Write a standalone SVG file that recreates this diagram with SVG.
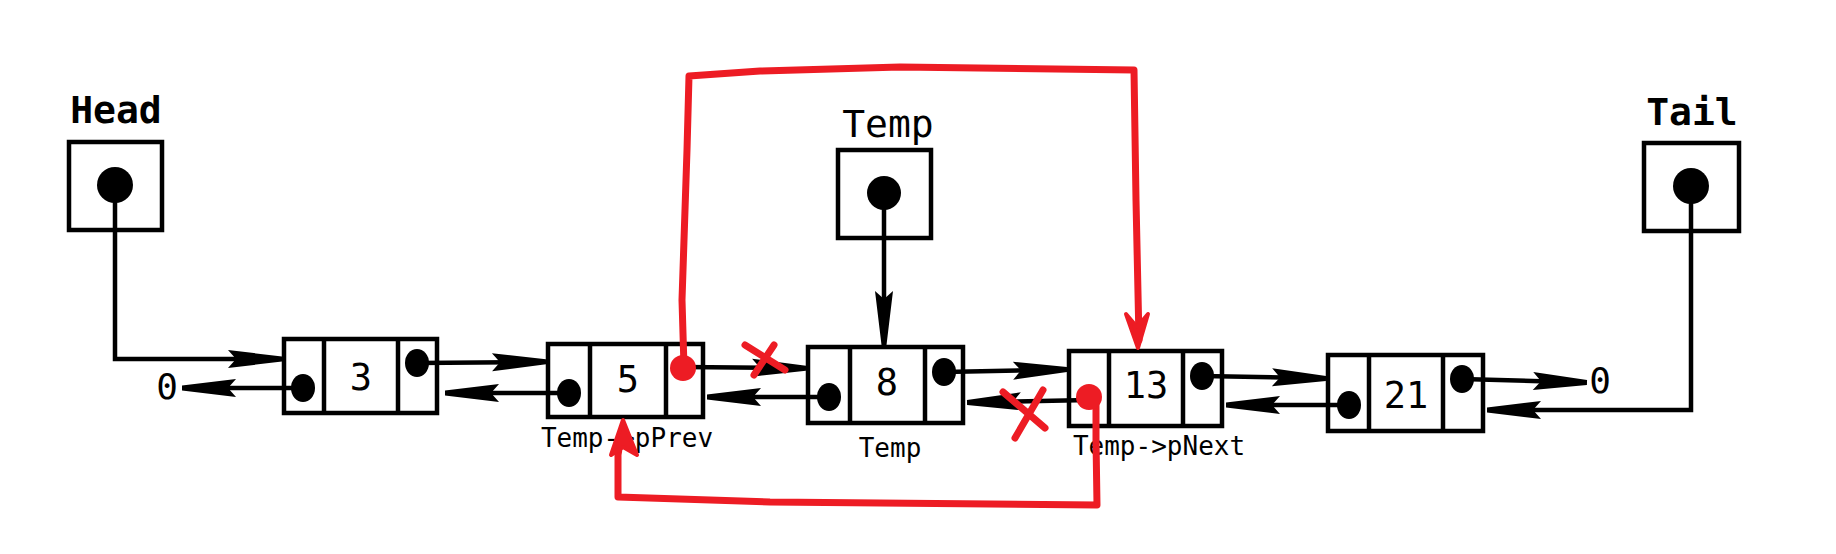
<svg xmlns="http://www.w3.org/2000/svg" width="1836" height="554" viewBox="0 0 1836 554">
<defs>
<marker id="ah" viewBox="-40 -12 64 24" markerWidth="64" markerHeight="24" markerUnits="userSpaceOnUse" refX="0" refY="0" orient="auto" overflow="visible">
<path d="M20,-2.5 L20,2.5 L-34,9 L-26,0 L-34,-9 Z" fill="#000"/>
</marker>
<style>
.box{fill:#fff;stroke:#000;stroke-width:4.5}
.div{stroke:#000;stroke-width:4.5}
.dot{fill:#000}
.txt{font-family:"DejaVu Sans Mono","Liberation Mono",monospace;fill:#000}
.big{font-size:38px}
.bold{font-weight:bold}
.num{font-size:37px;text-anchor:middle}
.lbl{font-size:26px;text-anchor:middle}
.zero{font-size:36px;text-anchor:middle}
.ln{fill:none;stroke:#000;stroke-width:4.5;stroke-linejoin:miter}
.red{fill:none;stroke:#ED1C24;stroke-width:7;stroke-linecap:round;stroke-linejoin:round}
.redf{fill:#ED1C24;stroke:#ED1C24;stroke-width:4;stroke-linejoin:round}
</style>
</defs>
<rect width="1836" height="554" fill="#fff"/>

<g id="head">
<text class="txt big bold" x="116" y="123" text-anchor="middle">Head</text>
<rect class="box" x="69" y="142" width="93" height="88"/>
<circle class="dot" cx="115" cy="185" r="18"/>
</g>
<g id="tail">
<text class="txt big bold" x="1692" y="125" text-anchor="middle">Tail</text>
<rect class="box" x="1644" y="143" width="95" height="88"/>
<circle class="dot" cx="1691" cy="186" r="18"/>
</g>
<g id="temp">
<text class="txt big" x="888" y="137" text-anchor="middle">Temp</text>
<rect class="box" x="838" y="150" width="93" height="88"/>
<circle class="dot" cx="884" cy="193" r="17"/>
</g>

<g id="null-left"><text class="txt zero" x="167" y="399">0</text></g>
<g id="null-right"><text class="txt zero" x="1600" y="393">0</text></g>

<g id="node3">
<rect class="box" x="284" y="339" width="153" height="74"/>
<line class="div" x1="324" y1="339" x2="324" y2="413"/>
<line class="div" x1="398" y1="339" x2="398" y2="413"/>
<ellipse class="dot" cx="303" cy="388" rx="12" ry="14"/>
<ellipse class="dot" cx="417" cy="363" rx="12" ry="14"/>
<text class="txt num" x="361" y="390">3</text>
</g>
<g id="node5">
<rect class="box" x="548" y="344" width="155" height="73"/>
<line class="div" x1="590" y1="344" x2="590" y2="417"/>
<line class="div" x1="666" y1="344" x2="666" y2="417"/>
<ellipse class="dot" cx="569" cy="393" rx="12" ry="14"/>
<text class="txt num" x="628" y="392">5</text>
<text class="txt lbl" x="627" y="447">Temp-&gt;pPrev</text>
</g>
<g id="node8">
<rect class="box" x="808" y="347" width="155" height="76"/>
<line class="div" x1="850" y1="347" x2="850" y2="423"/>
<line class="div" x1="925" y1="347" x2="925" y2="423"/>
<ellipse class="dot" cx="829" cy="397" rx="12" ry="14"/>
<ellipse class="dot" cx="944" cy="372" rx="12" ry="14"/>
<text class="txt num" x="887" y="395">8</text>
<text class="txt lbl" x="890" y="457">Temp</text>
</g>
<g id="node13">
<rect class="box" x="1069" y="351" width="153" height="75"/>
<line class="div" x1="1109" y1="351" x2="1109" y2="426"/>
<line class="div" x1="1183" y1="351" x2="1183" y2="426"/>
<ellipse class="dot" cx="1202" cy="376" rx="12" ry="14"/>
<text class="txt num" x="1146" y="398">13</text>
<text class="txt lbl" x="1159" y="455">Temp-&gt;pNext</text>
</g>
<g id="node21">
<rect class="box" x="1328" y="355" width="155" height="76"/>
<line class="div" x1="1369" y1="355" x2="1369" y2="431"/>
<line class="div" x1="1443" y1="355" x2="1443" y2="431"/>
<ellipse class="dot" cx="1349" cy="405" rx="12" ry="14"/>
<ellipse class="dot" cx="1462" cy="379" rx="12" ry="14"/>
<text class="txt num" x="1406" y="408">21</text>
</g>

<g id="connectors">
<path class="ln" d="M115,185 V359 H262" marker-end="url(#ah)"/>
<path class="ln" d="M303,388 H202" marker-end="url(#ah)"/>
<path class="ln" d="M417,363 L526,362" marker-end="url(#ah)"/>
<path class="ln" d="M569,393 H465" marker-end="url(#ah)"/>
<path class="ln" d="M683,367 L786,368" marker-end="url(#ah)"/>
<path class="ln" d="M829,397 H727" marker-end="url(#ah)"/>
<path class="ln" d="M944,372 L1047,370" marker-end="url(#ah)"/>
<path class="ln" d="M1089,400 L987,402" marker-end="url(#ah)"/>
<path class="ln" d="M1202,376 L1306,378" marker-end="url(#ah)"/>
<path class="ln" d="M1349,405 H1246" marker-end="url(#ah)"/>
<path class="ln" d="M1462,379 L1567,382" marker-end="url(#ah)"/>
<path class="ln" d="M1691,186 V410 H1507" marker-end="url(#ah)"/>
<path class="ln" d="M884,193 V325" marker-end="url(#ah)"/>
</g>

<g id="changes">
<path class="red" d="M684,367 L682,300 L687,150 L689,76 L760,71 L900,67 L1134,70 L1136,200 L1139,340"/>
<path class="redf" d="M1126,314 L1138,348 L1148,314 L1137,327 Z"/>
<path class="red" d="M1096,397 L1096,440 L1097,505 L770,502 L618,497 L618,455 L622,430"/>
<path class="redf" d="M623,420 L611,455 L623,447 L637,455 Z"/>
<circle cx="683" cy="368" r="13" fill="#ED1C24"/>
<circle cx="1089" cy="397" r="13" fill="#ED1C24"/>
<path class="red" d="M745,345 L785,370 M774,345 L754,375"/>
<path class="red" d="M1003,392 L1045,428 M1043,390 L1015,438"/>
</g>
</svg>
